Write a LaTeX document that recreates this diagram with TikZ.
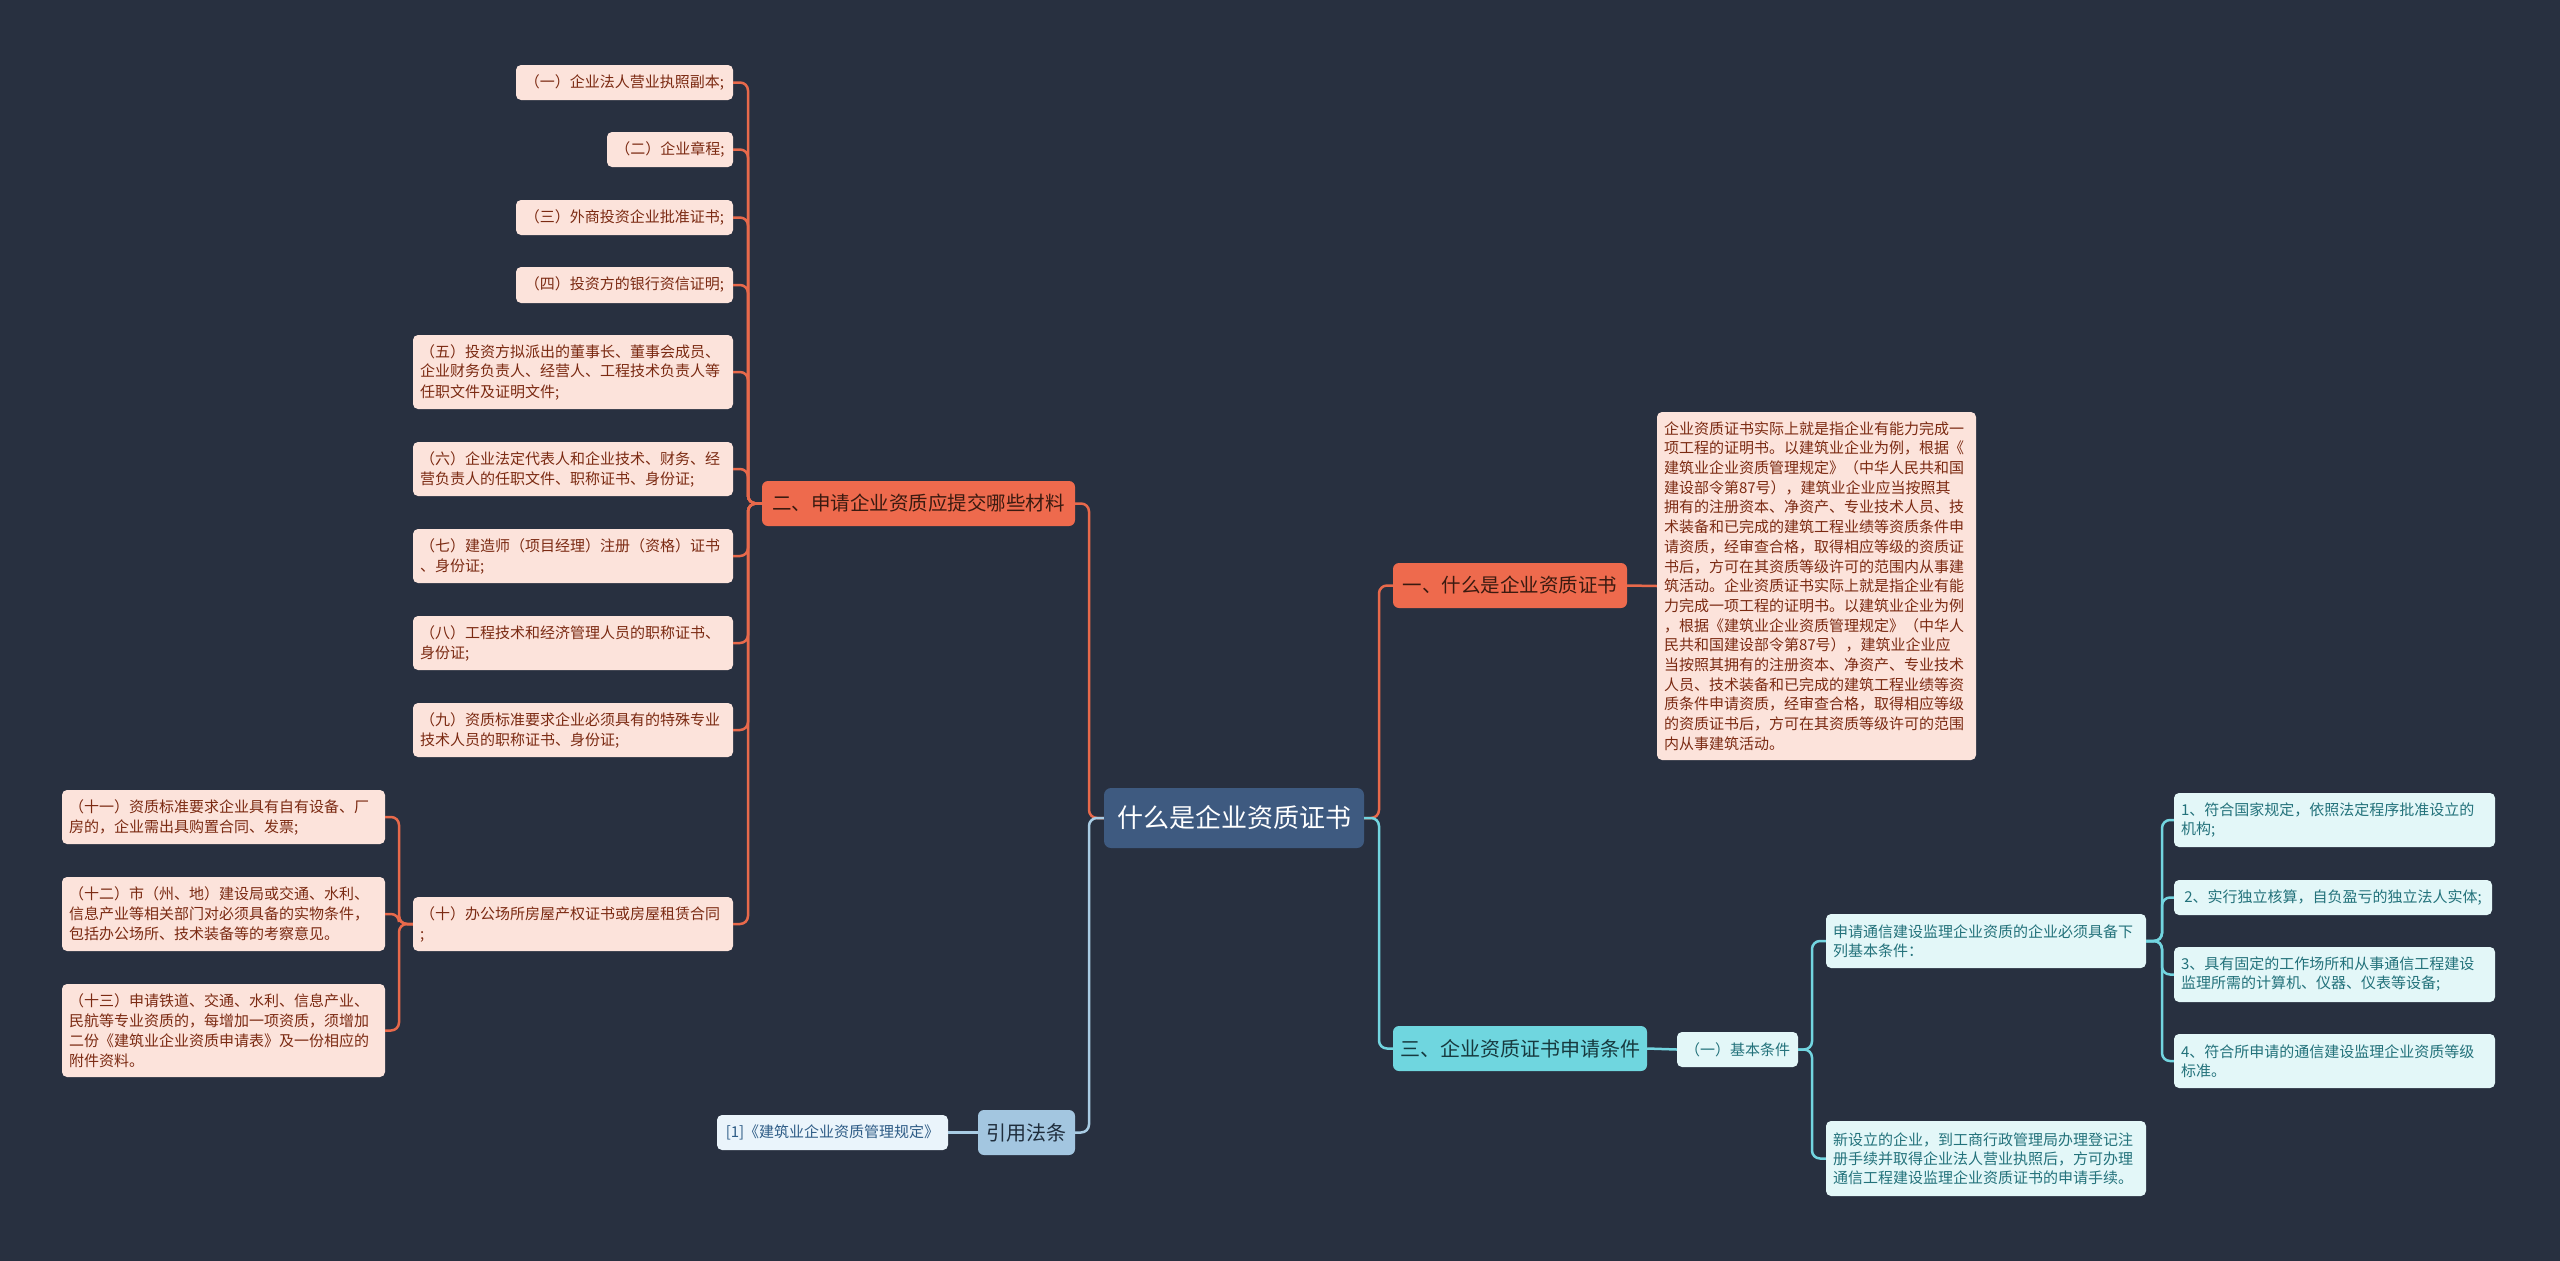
\documentclass[tikz,border=0pt]{standalone}
\usepackage{fontspec}
\setmainfont{Noto Sans CJK SC}
\definecolor{cBg}{HTML}{283040}
\definecolor{cRoot}{HTML}{3E5A80}
\definecolor{cOrange}{HTML}{EE6A4D}
\definecolor{cOrangeT}{HTML}{3A1A10}
\definecolor{cOLine}{HTML}{E8694B}
\definecolor{cLeafO}{HTML}{FCE3DB}
\definecolor{cLeafOT}{HTML}{7B2A12}
\definecolor{cCyan}{HTML}{6FD6DF}
\definecolor{cCyanT}{HTML}{173A3F}
\definecolor{cCLine}{HTML}{72D5E0}
\definecolor{cLeafC}{HTML}{E3F7F8}
\definecolor{cLeafCT}{HTML}{23727B}
\definecolor{cRef}{HTML}{A3C6E0}
\definecolor{cRefT}{HTML}{1F2D3C}
\definecolor{cRLine}{HTML}{A9CCE4}
\definecolor{cLeafR}{HTML}{EAF4FB}
\definecolor{cLeafRT}{HTML}{2E5C86}
\tikzset{
  sz/.style 2 args={minimum width=#1, minimum height=#2},
  mw/.style 2 args={text width=#1-14pt, minimum height=#2},
  rootbox/.style={fill=cRoot, text=white, rounded corners=7pt, font=\fontsize{26}{30}\selectfont, inner sep=0pt},
  brO/.style={fill=cOrange, text=cOrangeT, rounded corners=6pt, font=\fontsize{19.5}{24}\selectfont, inner sep=0pt},
  brC/.style={fill=cCyan, text=cCyanT, rounded corners=6pt, font=\fontsize{20}{24}\selectfont, inner sep=0pt},
  brR/.style={fill=cRef, text=cRefT, rounded corners=6pt, font=\fontsize{20}{24}\selectfont, inner sep=0pt},
  leafO/.style={fill=cLeafO, text=cLeafOT, rounded corners=5pt, font=\fontsize{15}{20}\selectfont, align=left, inner xsep=7pt, inner ysep=0pt},
  leafC/.style={fill=cLeafC, text=cLeafCT, rounded corners=5pt, font=\fontsize{15}{19}\selectfont, align=left, inner xsep=7pt, inner ysep=0pt},
  leafR/.style={fill=cLeafR, text=cLeafRT, rounded corners=5pt, font=\fontsize{15}{20}\selectfont, align=left, inner xsep=7pt, inner ysep=0pt},
  oline/.style={draw=cOLine, line width=2.5pt, rounded corners=8pt},
  cline/.style={draw=cCLine, line width=2.5pt, rounded corners=8pt},
  bline/.style={draw=cRLine, line width=2.5pt, rounded corners=8pt},
}
\begin{document}
\begin{tikzpicture}[x=1pt, y=-1pt]
\fill[cBg] (0,0) rectangle (2560,1261);
\useasboundingbox (0,0) rectangle (2560,1261);

% root and branches
\node[rootbox, sz={260}{60}] (root) at (1234,818) {什么是企业资质证书};
\node[brO, sz={313}{45}] (n2) at (918.5,503.5) {二、申请企业资质应提交哪些材料};
\node[brO, sz={234}{45}] (n1) at (1510,585.5) {一、什么是企业资质证书};
\node[brC, sz={254}{45}] (n3) at (1520,1048.5) {三、企业资质证书申请条件};
\node[brR, sz={97}{45}] (nref) at (1026.5,1132.5) {引用法条};

% junction coordinates
\coordinate (jl) at (1089,818);
\coordinate (jr) at (1379,818);
\coordinate (j2) at (748,503.5);
\coordinate (j10) at (399,924);
\coordinate (jb) at (1812,1049.5);
\coordinate (jc) at (2162,941);

% left leaves
\node[leafO, sz={217}{35}] (L1) at (624.5,82.5) {（一）企业法人营业执照副本;};
\node[leafO, sz={126}{35}] (L2) at (670,149.5) {（二）企业章程;};
\node[leafO, sz={217}{35}] (L3) at (624.5,217.5) {（三）外商投资企业批准证书;};
\node[leafO, sz={217}{36}] (L4) at (624.5,285) {（四）投资方的银行资信证明;};
\node[leafO, mw={320pt}{74}] (L5) at (573,372) {（五）投资方拟派出的董事长、董事会成员、\\企业财务负责人、经营人、工程技术负责人等\\任职文件及证明文件;};
\node[leafO, mw={320pt}{54}] (L6) at (573,469) {（六）企业法定代表人和企业技术、财务、经\\营负责人的任职文件、职称证书、身份证;};
\node[leafO, mw={320pt}{54}] (L7) at (573,556) {（七）建造师（项目经理）注册（资格）证书\\、身份证;};
\node[leafO, mw={320pt}{54}] (L8) at (573,643) {（八）工程技术和经济管理人员的职称证书、\\身份证;};
\node[leafO, mw={320pt}{54}] (L9) at (573,730) {（九）资质标准要求企业必须具有的特殊专业\\技术人员的职称证书、身份证;};
\node[leafO, mw={320pt}{54}] (L10) at (573,924) {（十）办公场所房屋产权证书或房屋租赁合同\\;};
\node[leafO, mw={323pt}{54}] (L11) at (223.5,817) {（十一）资质标准要求企业具有自有设备、厂\\房的，企业需出具购置合同、发票;};
\node[leafO, mw={323pt}{74}] (L12) at (223.5,914) {（十二）市（州、地）建设局或交通、水利、\\信息产业等相关部门对必须具备的实物条件，\\包括办公场所、技术装备等的考察意见。};
\node[leafO, mw={323pt}{93}] (L13) at (223.5,1030.5) {（十三）申请铁道、交通、水利、信息产业、\\民航等专业资质的，每增加一项资质，须增加\\二份《建筑业企业资质申请表》及一份相应的\\附件资料。};

% text block
\node[leafO, mw={319pt}{348}, font=\fontsize{15}{19.7}\selectfont] (T) at (1816.5,586) {企业资质证书实际上就是指企业有能力完成一\\项工程的证明书。以建筑业企业为例，根据《\\建筑业企业资质管理规定》（中华人民共和国\\建设部令第87号），建筑业企业应当按照其\\拥有的注册资本、净资产、专业技术人员、技\\术装备和已完成的建筑工程业绩等资质条件申\\请资质，经审查合格，取得相应等级的资质证\\书后，方可在其资质等级许可的范围内从事建\\筑活动。企业资质证书实际上就是指企业有能\\力完成一项工程的证明书。以建筑业企业为例\\，根据《建筑业企业资质管理规定》（中华人\\民共和国建设部令第87号），建筑业企业应\\当按照其拥有的注册资本、净资产、专业技术\\人员、技术装备和已完成的建筑工程业绩等资\\质条件申请资质，经审查合格，取得相应等级\\的资质证书后，方可在其资质等级许可的范围\\内从事建筑活动。};

% right cyan leaves
\node[leafC, sz={121}{35}] (B1) at (1737.5,1049.5) {（一）基本条件};
\node[leafC, mw={320pt}{54}] (C1) at (1986,941) {申请通信建设监理企业资质的企业必须具备下\\列基本条件：};
\node[leafC, mw={320pt}{75}] (C2) at (1986,1158.5) {新设立的企业，到工商行政管理局办理登记注\\册手续并取得企业法人营业执照后，方可办理\\通信工程建设监理企业资质证书的申请手续。};
\node[leafC, mw={321pt}{54}] (D1) at (2334.5,820) {1、符合国家规定，依照法定程序批准设立的\\机构;};
\node[leafC, sz={318}{35}] (D2) at (2333,897.5) {2、实行独立核算，自负盈亏的独立法人实体;};
\node[leafC, mw={321pt}{55}] (D3) at (2334.5,974.5) {3、具有固定的工作场所和从事通信工程建设\\监理所需的计算机、仪器、仪表等设备;};
\node[leafC, mw={321pt}{54}] (D4) at (2334.5,1061) {4、符合所申请的通信建设监理企业资质等级\\标准。};

% reference leaf
\node[leafR, sz={231}{35}] (R1) at (832.5,1132.5) {[1]《建筑业企业资质管理规定》};

% connectors: root
\draw[oline] (root.west) -- (jl) |- (n2.east);
\draw[oline] (root.east) -- (jr) |- (n1.west);
\draw[bline] (root.west) -- (jl) |- (nref.east);
\draw[cline] (root.east) -- (jr) |- (n3.west);

% branch 2
\foreach \c in {L1,L2,L3,L4,L5,L6,L7,L8,L9,L10}
  \draw[oline] (n2.west) -- (j2) |- (\c.east);
\foreach \c in {L11,L12,L13}
  \draw[oline] (L10.west) -- (j10) |- (\c.east);

% branch 1
\draw[oline] (n1.east) -- (T.west);

% branch 3
\draw[cline] (n3.east) -- (B1.west);
\foreach \c in {C1,C2}
  \draw[cline] (B1.east) -- (jb) |- (\c.west);
\foreach \c in {D1,D2,D3,D4}
  \draw[cline] (C1.east) -- (jc) |- (\c.west);

% reference
\draw[bline] (nref.west) -- (R1.east);
\end{tikzpicture}
\end{document}
